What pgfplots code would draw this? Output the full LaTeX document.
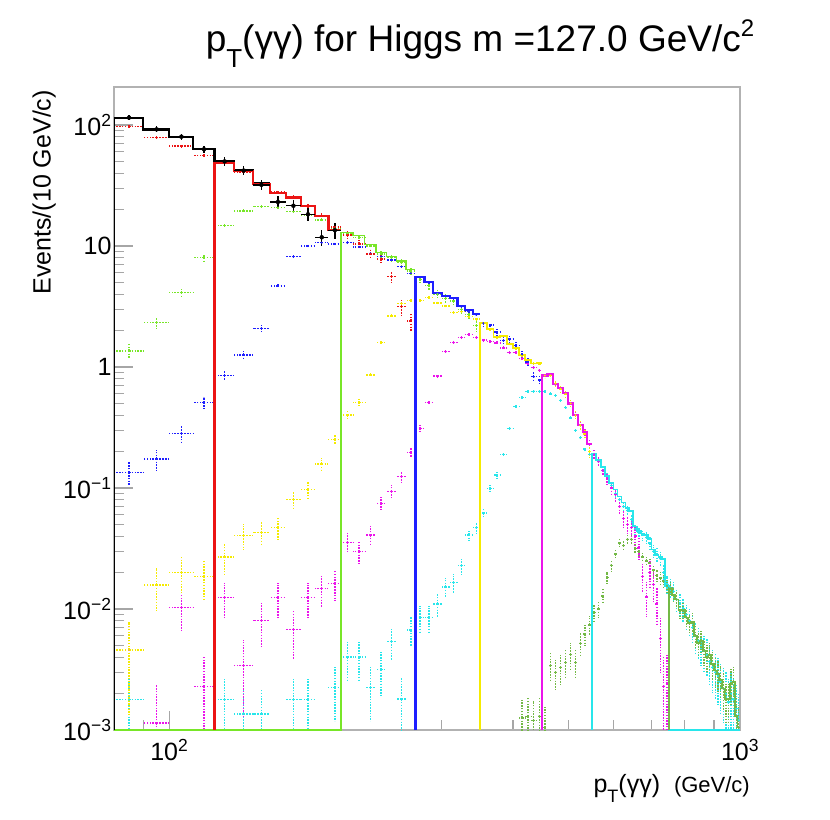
\documentclass[border=0pt]{standalone}
\usepackage{fontspec}
\setmainfont{Liberation Sans}
\usepackage{pgfplots}
\pgfplotsset{compat=1.18}
\usepackage{pgfplotstable}
\definecolor{rred}{RGB}{235,20,20}
\definecolor{rgreen}{RGB}{120,230,40}
\definecolor{rblue}{RGB}{30,30,255}
\definecolor{ryellow}{RGB}{245,235,0}
\definecolor{rmag}{RGB}{235,20,235}
\definecolor{rcyan}{RGB}{40,230,235}
\definecolor{dgreen}{RGB}{115,185,70}

\pgfplotstableread{
x y
85 115
95 92
105 80
115 63
125 50
135 42
145 32
155 23.1
165 21.5
175 18.3
185 11.8
195 13.5
}\blackP
\pgfplotstableread{
x y
85 96.8
95 78.5
105 67
115 56.2
125 49
135 41
145 32
155 27.9
165 25.5
175 21.1
185 17.7
195 14.4
205 12.3
215 10.4
225 8.6
235 7.8
245 5.6
255 3.15
265 2.4
}\redP
\pgfplotstableread{
x y
85 1.36
95 2.34
105 4.11
115 8.0
125 14.7
135 19.5
145 21.1
155 20.8
165 19.2
175 17.9
185 16.4
195 14.0
205 12.6
215 11.8
225 10.0
235 8.6
245 8.0
255 7.3
265 6.2
275 5.3
285 4.7
295 4.0
305 3.7
315 3.5
325 3.0
335 2.7
345 2.2
}\greenP
\pgfplotstableread{
x y
85 0.135
95 0.174
105 0.283
115 0.51
125 0.85
135 1.26
145 2.09
155 4.67
165 8.16
175 10.0
185 10.65
195 10.4
205 10.65
215 9.8
225 8.7
235 8.2
245 7.67
255 6.74
265 5.95
275 5.5
285 5.0
295 4.0
305 3.85
315 3.7
325 3.15
335 2.9
345 2.7
355 2.3
365 2.22
375 1.94
385 1.65
395 1.7
405 1.5
415 1.27
425 1.1
435 0.83
445 0.78
}\blueP
\pgfplotstableread{
x y
85 0.0046
95 0.0158
105 0.0201
115 0.0186
125 0.027
135 0.0405
145 0.043
155 0.047
165 0.0806
175 0.0976
185 0.158
195 0.252
205 0.40
215 0.51
225 0.86
235 1.6
245 2.64
255 3.36
265 3.55
275 3.55
285 3.74
295 3.38
305 3.19
315 2.81
325 2.86
335 2.60
345 2.49
355 2.3
365 2.05
375 1.75
385 1.8
395 1.55
405 1.42
415 1.25
425 1.14
435 1.07
445 1.06
455 0.85
465 0.85
475 0.73
485 0.66
495 0.6
505 0.5
515 0.4
525 0.33
535 0.28
545 0.2
}\yellowP
\pgfplotstableread{
x y
85 0.0046
95 0.00114
105 0.0103
115 0.0023
125 0.0125
135 0.0034
145 0.0080
155 0.0125
165 0.0068
175 0.0125
185 0.0148
195 0.0162
205 0.0354
215 0.0297
225 0.0408
235 0.0746
245 0.094
255 0.124
265 0.197
275 0.311
285 0.51
295 0.84
305 1.34
315 1.59
325 1.75
335 1.86
345 1.75
355 1.67
365 1.63
375 1.58
385 1.44
395 1.31
405 1.31
415 1.18
425 1.07
435 0.99
445 0.94
455 0.85
465 0.86
475 0.72
485 0.67
495 0.61
505 0.50
515 0.40
525 0.33
535 0.29
545 0.23
555 0.19
565 0.165
575 0.14
585 0.12
595 0.1
605 0.088
615 0.07
625 0.056
635 0.05
645 0.047
655 0.04
665 0.032
675 0.0186
685 0.0126
695 0.02
705 0.016
715 0.011
725 0.0057
735 0.0023
745 0.0024
}\magP
\pgfplotstableread{
x y
85 0.00178
125 0.00178
135 0.00136
145 0.00136
165 0.00178
175 0.00178
195 0.00224
205 0.0040
215 0.0040
225 0.00224
235 0.00315
245 0.0054
255 0.0018
265 0.0067
275 0.0085
285 0.0085
295 0.011
305 0.0152
315 0.0165
325 0.0228
335 0.041
345 0.047
355 0.062
365 0.099
375 0.128
385 0.19
395 0.31
405 0.47
415 0.56
425 0.63
435 0.63
445 0.63
455 0.63
465 0.60
475 0.58
485 0.53
495 0.46
505 0.38
515 0.30
525 0.26
535 0.21
545 0.19
555 0.19
565 0.165
575 0.14
585 0.125
595 0.105
605 0.09
615 0.08
625 0.07
635 0.065
645 0.055
655 0.046
665 0.043
675 0.041
685 0.039
695 0.035
705 0.03
715 0.028
725 0.026
735 0.02
745 0.016
755 0.015
765 0.014
775 0.012
785 0.011
795 0.01
805 0.009
815 0.008
825 0.007
835 0.006
845 0.0055
855 0.005
865 0.0045
875 0.0042
885 0.0037
895 0.0033
905 0.003
915 0.0028
925 0.0025
935 0.0022
945 0.002
955 0.0017
965 0.002
975 0.0018
985 0.0015
995 0.0012
}\cyanP
\pgfplotstableread{
x y
415 0.00126
425 0.0013
435 0.0012
445 0.0013
455 0.00105
465 0.0034
475 0.0030
485 0.0033
495 0.0036
505 0.0042
515 0.0036
525 0.0052
535 0.0062
545 0.0074
555 0.0094
565 0.0100
575 0.0128
585 0.0182
595 0.023
605 0.0284
615 0.035
625 0.0333
635 0.0377
645 0.0377
655 0.0317
665 0.030
675 0.027
685 0.025
695 0.024
705 0.021
715 0.019
725 0.018
735 0.017
745 0.0155
755 0.0148
765 0.013
775 0.012
785 0.0098
795 0.0098
805 0.0085
815 0.0076
825 0.0078
835 0.006
845 0.0052
855 0.0055
865 0.0045
875 0.004
885 0.0042
895 0.0035
905 0.0031
915 0.0029
925 0.0026
935 0.0022
945 0.0018
955 0.0018
965 0.0024
975 0.0025
985 0.0013
995 0.00105
}\dgreenP

\pgfplotsset{
  /pgfplots/table/errw/.style={
    y error plus expr={sqrt(\thisrow{y}*#1)},
    y error minus expr={min(sqrt(\thisrow{y}*#1),0.9*\thisrow{y})}},
  pts/.style={only marks, mark=*, mark size=0.8bp,
    error bars/y dir=both, error bars/y explicit,
    error bars/x dir=both, error bars/x fixed=5,
    error bars/error mark=none,
    error bars/error bar style={line width=1.4bp, dash pattern=on 1.5bp off 1.3bp}},
  hist/.style={const plot, mark=none, line width=2bp},
}

\begin{document}
\begin{tikzpicture}
\useasboundingbox (0,0) rectangle (830bp,820bp);
\begin{axis}[
  at={(114bp,90bp)}, anchor=south west,
  scale only axis, width=626bp, height=643bp,
  xmode=log, ymode=log,
  xmin=80, xmax=1000, ymin=0.001, ymax=206,
  xtick={100,1000},
  xticklabels={10\textsuperscript{2},10\textsuperscript{3}},
  minor xtick={90,200,300,400,500,600,700,800,900},
  ytick={0.001,0.01,0.1,1,10,100},
  yticklabels={10\textsuperscript{−3},10\textsuperscript{−2},10\textsuperscript{−1},1,10,10\textsuperscript{2}},
  minor ytick={0.002,0.003,0.004,0.005,0.006,0.007,0.008,0.009,
    0.02,0.03,0.04,0.05,0.06,0.07,0.08,0.09,
    0.2,0.3,0.4,0.5,0.6,0.7,0.8,0.9,
    2,3,4,5,6,7,8,9,20,30,40,50,60,70,80,90},
  tick align=inside, tick pos=left,
  major tick length=19bp, minor tick length=10bp,
  tick style={draw=gray!70, line width=1.2bp},
  axis line style={draw=gray!60, line width=1.5bp},
  ticklabel style={font=\fontsize{25bp}{30bp}\selectfont},
  xticklabel style={yshift=-6bp},
  yticklabel style={xshift=1bp},
  clip=true,
]
% data points (dotted error crosses)
\addplot[color=rcyan, pts] table[x=x, y=y, errw=0.0005] {\cyanP};
\addplot[color=dgreen, pts] table[x=x, y=y, errw=0.00025] {\dgreenP};
\addplot[color=rmag, pts] table[x=x, y=y, errw=0.0013] {\magP};
\addplot[color=ryellow, pts] table[x=x, y=y, errw=0.0023] {\yellowP};
\addplot[color=rblue, pts] table[x=x, y=y, errw=0.0065] {\blueP};
\addplot[color=rgreen, pts] table[x=x, y=y, errw=0.027] {\greenP};
\addplot[color=rred, pts] table[x=x, y=y, errw=0.07] {\redP};
% histograms
\addplot[hist, color=rgreen, line width=1.5bp] coordinates {(80,0.001) (200,12.9) (210,12.2) (220,10.3) (230,8.8) (240,8.2) (250,7.55) (260,6.42) (270,6.42)};
\addplot[hist, color=black, line width=2.3bp] coordinates {(80,0.001) (80,113.6) (90,92) (100,80) (110,63.7) (120,50.4) (130,42.5) (140,33) (150,33)};
\addplot[hist, color=rred, line width=2.3bp] coordinates {(120,0.001) (120,48.5) (130,41.9) (140,32.4) (150,27.3) (160,25.1) (170,21.5) (180,17.7) (190,13.5) (200,13.5)};
\addplot[hist, color=rblue, line width=2.2bp] coordinates {(270,0.001) (270,5.57) (280,5.07) (290,4.06) (300,3.88) (310,3.74) (320,3.19) (330,2.96) (340,2.73) (350,2.73)};
\addplot[hist, color=ryellow, line width=1.8bp] coordinates {(350,0.001) (350,2.32) (360,2.06) (370,1.76) (380,1.8) (390,1.55) (400,1.43) (410,1.26) (420,1.14) (430,1.07) (440,1.08) (450,1.08)};
\addplot[hist, color=rmag, line width=2.3bp] coordinates {(450,0.001) (450,0.85) (460,0.87) (470,0.72) (480,0.67) (490,0.61) (500,0.50) (510,0.40) (520,0.33) (530,0.29) (540,0.23) (550,0.23)};
\addplot[hist, color=rcyan, line width=1.8bp] coordinates {(550,0.001) (550,0.19) (560,0.17) (570,0.15) (580,0.125) (590,0.11) (600,0.097) (610,0.085) (620,0.076) (630,0.068) (640,0.065) (650,0.048) (660,0.044) (670,0.042) (680,0.041) (690,0.038) (700,0.031) (710,0.028) (720,0.027) (730,0.026) (740,0.0155) (750,0.001) (1000,0.001)};
\addplot[hist, color=dgreen, line width=1.8bp] coordinates {(750,0.001) (750,0.0148) (760,0.013) (770,0.012) (780,0.0098) (790,0.0098) (800,0.0085) (810,0.0076) (820,0.0078) (830,0.006) (840,0.0052) (850,0.0055) (860,0.0045) (870,0.004) (880,0.0042) (890,0.0035) (900,0.0031) (910,0.0029) (920,0.0026) (930,0.0022) (940,0.0018) (950,0.0018) (960,0.0024) (970,0.0025) (980,0.0013) (990,0.00105) (1000,0.00105)};
% black data points
\addplot[color=black, only marks, mark=none,
  error bars/y dir=both, error bars/y explicit,
  error bars/x dir=both, error bars/x fixed=5,
  error bars/error mark=none,
  error bars/error bar style={line width=1.4bp, solid}]
  table[x=x, y=y, errw=0.3] {\blackP};
\end{axis}
\node[anchor=base, inner sep=0] at (480bp,768bp) {\fontsize{37bp}{44bp}\selectfont p\raisebox{-0.42em}{\fontsize{26bp}{30bp}\selectfont T}(γγ) for Higgs m =127.0 GeV/c\raisebox{0.42em}{\fontsize{24bp}{28bp}\selectfont 2}};
\node[rotate=90, anchor=south east, inner sep=0] at (56bp,730bp) {\fontsize{25bp}{30bp}\selectfont Events/(10 GeV/c)};
\node[anchor=base east, inner sep=0] at (750bp,28bp) {\fontsize{25bp}{30bp}\selectfont p\raisebox{-0.4em}{\fontsize{18bp}{22bp}\selectfont T}(γγ)\ \ {\fontsize{22bp}{26bp}\selectfont (GeV/c)}};
\end{tikzpicture}
\end{document}
